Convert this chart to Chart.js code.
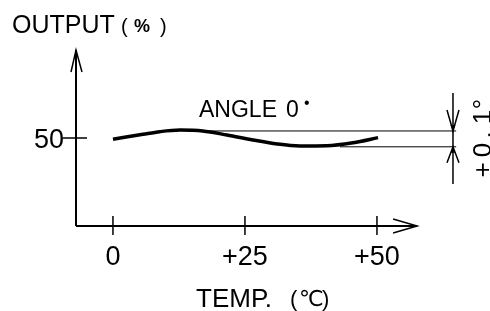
<!DOCTYPE html>
<html>
<head>
<meta charset="utf-8">
<script src="https://cdn.jsdelivr.net/npm/chart.js@4"></script>
<style>
  html, body { margin: 0; padding: 0; background: #fff; }
  canvas { display: block; }
</style>
</head>
<body>
<canvas id="chart" width="490" height="311"></canvas>
<script>
// output curve
const tempC = [0, 5.7, 8.9, 12.7, 17, 21.6, 26.5, 31.1, 35.4, 40.5, 45.5, 50.2];
const outputPct = [49.3, 52.1, 53.6, 54.5, 54.0, 51.7, 48.9, 46.6, 45.5, 45.6, 47.3, 50.2];

// tick labels
const xTickValues = [0, 25, 50];
const xTickLabels = ['0', '+25', '+50'];
const yTickValues = [50];
const yTickLabels = ['50'];

// tolerance band (angle 0°, ±0.1°)
const bandUpper = 54;
const bandLower = 45;
const upperLineX = [14, 65];
const lowerLineX = [43, 65];
const dimX = 64.4;
const dimY = [75.6, 23.9];
const toleranceChars = ['+', '0', '.', '1', '°'];
const toleranceCharY = [170, 150, 135, 117, 104]; // pixel rows of the rotated label

// axis extents
const xMin = -7, xMax = 67, xAxisEnd = 57.6;
const yMin = 0, yMax = 100, yAxisEnd = 100;

const FONT = '"Liberation Sans", Arial, sans-serif';

// vẽ trục, mũi tên, nhãn
const drawingPlugin = {
    id: 'drawing',
    afterDatasetsDraw(chart) {
        const ctx = chart.ctx;
        const xs = chart.scales.x, ys = chart.scales.y;
        const px = v => xs.getPixelForValue(v);
        const py = v => ys.getPixelForValue(v);
        const ox = px(xMin), oy = py(yMin);

        ctx.save();
        ctx.strokeStyle = '#000';
        ctx.fillStyle = '#000';
        ctx.lineCap = 'butt';

        // axes
        ctx.lineWidth = 2;
        ctx.beginPath();
        ctx.moveTo(ox, oy); ctx.lineTo(ox, py(yAxisEnd));
        ctx.moveTo(ox, oy); ctx.lineTo(px(xAxisEnd), oy);
        ctx.stroke();

        // arrow heads on axes
        ctx.lineWidth = 1.5;
        const ty = py(yAxisEnd);
        ctx.beginPath();
        ctx.moveTo(ox - 5, ty + 22); ctx.lineTo(ox, ty); ctx.lineTo(ox + 6, ty + 22);
        const tx = px(xAxisEnd);
        ctx.moveTo(tx - 24, oy - 7); ctx.lineTo(tx, oy); ctx.lineTo(tx - 24, oy + 7);
        ctx.stroke();

        // ticks
        ctx.lineWidth = 1.5;
        ctx.beginPath();
        xTickValues.forEach(v => { ctx.moveTo(px(v), oy - 10); ctx.lineTo(px(v), oy + 9); });
        yTickValues.forEach(v => { ctx.moveTo(ox - 13, py(v)); ctx.lineTo(ox + 11, py(v)); });
        ctx.stroke();

        // tick labels
        ctx.font = '27px ' + FONT;
        ctx.textBaseline = 'alphabetic';
        ctx.textAlign = 'center';
        xTickValues.forEach((v, i) => ctx.fillText(xTickLabels[i], px(v), oy + 39));
        ctx.textAlign = 'right';
        yTickValues.forEach((v, i) => ctx.fillText(yTickLabels[i], ox - 12, py(v) + 10));

        // axis titles
        ctx.textAlign = 'left';
        ctx.font = '25px ' + FONT;
        ctx.fillText('OUTPUT', 12, 33);
        ctx.font = '20px ' + FONT;
        ctx.fillText('(', 121, 33);
        ctx.fillText(')', 160, 33);
        ctx.font = 'bold 18px ' + FONT;
        ctx.fillText('%', 134, 32);

        ctx.font = '26px ' + FONT;
        ctx.fillText('TEMP.', 196, 307);
        ctx.font = '22px ' + FONT;
        ctx.fillText('(', 290, 306);
        ctx.fillText(')', 322, 306);
        ctx.font = '22px "DejaVu Sans", sans-serif';
        ctx.fillText('℃', 299, 306);

        // series label
        ctx.font = '23px ' + FONT;
        ctx.fillText('ANGLE', 199, 117);
        ctx.fillText('0', 286, 117);
        ctx.font = '16px ' + FONT;
        ctx.fillText('•', 304, 108);

        // dimension arrows
        const dx = px(dimX);
        ctx.lineWidth = 1.5;
        ctx.beginPath();
        const tU = py(bandUpper), tL = py(bandLower);
        ctx.moveTo(dx - 6, tU - 21); ctx.lineTo(dx, tU); ctx.lineTo(dx + 6, tU - 21);
        ctx.moveTo(dx - 6, tL + 16); ctx.lineTo(dx, tL); ctx.lineTo(dx + 6, tL + 16);
        ctx.stroke();
        ctx.beginPath();
        ctx.moveTo(dx - 2.5, tU - 6); ctx.lineTo(dx, tU); ctx.lineTo(dx + 2.5, tU - 6); ctx.closePath();
        ctx.moveTo(dx - 2.5, tL + 6); ctx.lineTo(dx, tL); ctx.lineTo(dx + 2.5, tL + 6); ctx.closePath();
        ctx.fill();

        // tolerance label, rotated, one glyph at a time
        ctx.font = '26px ' + FONT;
        ctx.textAlign = 'center';
        toleranceChars.forEach((ch, i) => {
            ctx.save();
            ctx.translate(491, toleranceCharY[i]);
            ctx.rotate(-Math.PI / 2);
            ctx.fillText(ch, 0, 0);
            ctx.restore();
        });

        ctx.restore();
    }
};

const ctx = document.getElementById('chart').getContext('2d');
new Chart(ctx, {
    type: 'line',
    data: {
        datasets: [
            {
                data: tempC.map((t, i) => ({ x: t, y: outputPct[i] })),
                borderColor: '#000',
                borderWidth: 3.5,
                pointRadius: 0,
                cubicInterpolationMode: 'monotone',
                fill: false
            },
            {
                data: upperLineX.map(x => ({ x, y: bandUpper })),
                borderColor: '#000',
                borderWidth: 1,
                pointRadius: 0
            },
            {
                data: lowerLineX.map(x => ({ x, y: bandLower })),
                borderColor: '#000',
                borderWidth: 1,
                pointRadius: 0
            },
            {
                data: dimY.map(y => ({ x: dimX, y })),
                borderColor: '#000',
                borderWidth: 1.5,
                pointRadius: 0
            }
        ]
    },
    options: {
        responsive: false,
        animation: false,
        layout: { padding: { left: 76, right: 23.28, top: 50, bottom: 85 } },
        scales: {
            x: { type: 'linear', min: xMin, max: xMax, display: false },
            y: { type: 'linear', min: yMin, max: yMax, display: false }
        },
        plugins: {
            legend: { display: false },
            tooltip: { enabled: false }
        }
    },
    plugins: [drawingPlugin]
});
</script>
</body>
</html>
